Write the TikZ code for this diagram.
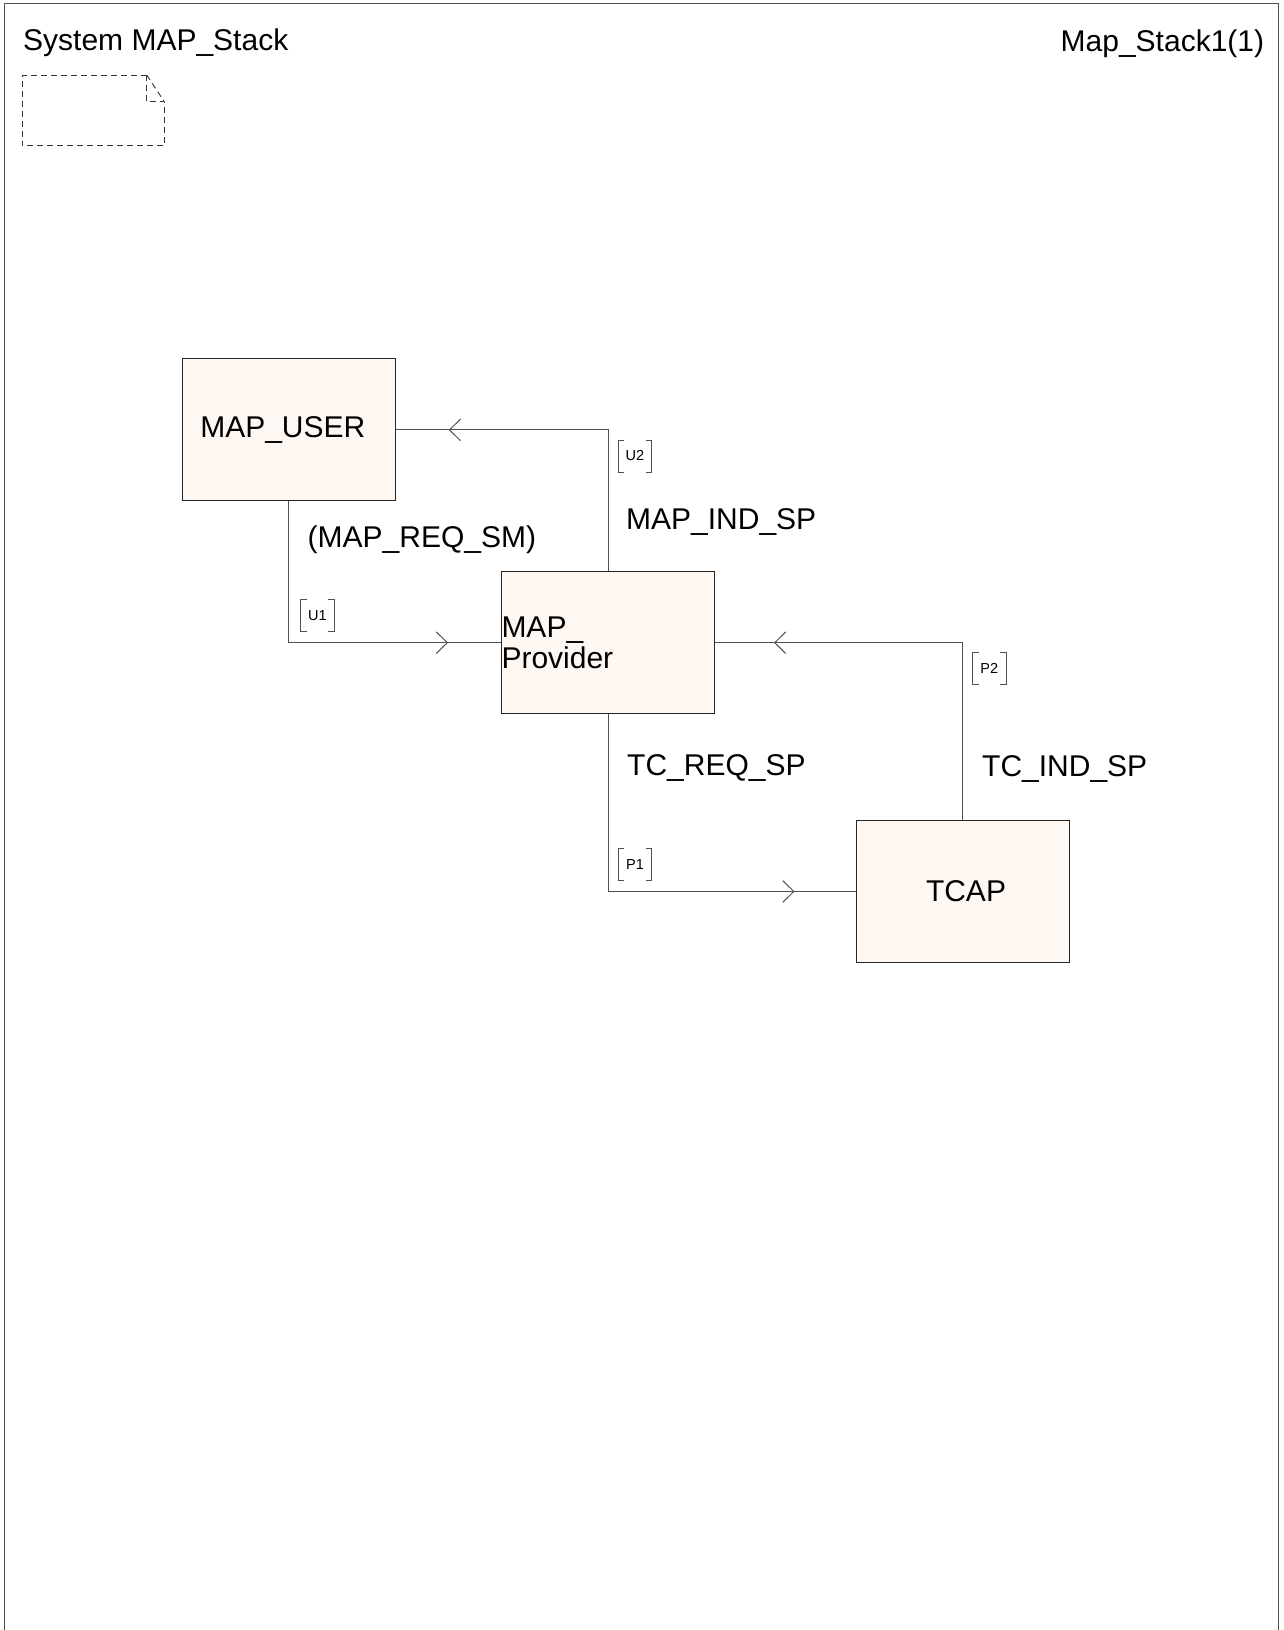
\documentclass[tikz,border=0pt]{standalone}
\usepackage{fontspec}
\setmainfont{Liberation Sans}
\usetikzlibrary{arrows.meta,decorations.markings}

\definecolor{blockfill}{RGB}{255,248,242}
\definecolor{linegray}{RGB}{80,80,80}

\tikzset{
  block/.style={draw=black!85, line width=1pt, fill=blockfill, minimum width=213pt, minimum height=142pt, inner sep=0pt, font=\fontsize{30}{31.7}\selectfont},
  sigtext/.style={anchor=base west, inner sep=0pt, font=\fontsize{30}{31.7}\selectfont},
  route/.style={minimum width=33pt, minimum height=31.5pt, inner sep=0pt, font=\fontsize{14.5}{16}\selectfont},
  bracket/.style={linegray, line width=0.8pt},
  notedash/.style={black!80, line width=0.9pt, dash pattern=on 6pt off 4pt},
  sig/.style={linegray, line width=1pt, postaction={decorate}, decoration={markings, mark=at position -#1 with {\arrow{Straight Barb[length=11pt,width=21.6pt]}}}}
}

\begin{document}
\begin{tikzpicture}[x=1pt,y=-1pt]
\useasboundingbox (0,0) rectangle (1283,1630);
\draw[linegray, line width=1pt] (4.3,1630) -- (4.3,3.3) -- (1278.7,3.3) -- (1278.7,1630);
\node[sigtext] (title) at (23,50) {System MAP\_Stack};
\node[sigtext, anchor=base east] (pagenum) at (1264.3,51.5) {Map\_Stack1(1)};

\draw[notedash] (146.7,75) -- (22.3,75) -- (22.3,145.7) -- (164.3,145.7) -- (164.3,101.7);
\draw[notedash] (146.7,75) -- (164.3,101.7);
\draw[notedash] (146.7,75) -- (146.7,101.7) -- (164.3,101.7);

\node[block, inner xsep=18pt, text width=177pt, align=left] (user) at (288.8,429.9) {MAP\_USER};
\node[block, text width=213pt, align=left] (prov) at (608,642.7) {MAP\_\\Provider};
\node[block] (tcap) at (962.5,891.5) {\hspace*{7pt}TCAP};

\draw[sig=53pt] (prov.north) |- (user.east);
\draw[sig=53pt] (user.south) |- (prov.west);
\draw[sig=59pt] (tcap.north) |- (prov.east);
\draw[sig=61pt] (prov.south) |- (tcap.west);

\node[sigtext] (mapreq) at (307.5,547.3) {(MAP\_REQ\_SM)};
\node[sigtext] (mapind) at (626,529.3) {MAP\_IND\_SP};
\node[sigtext] (tcreq) at (627,775.7) {TC\_REQ\_SP};
\node[sigtext] (tcind) at (982,776) {TC\_IND\_SP};

\node[route] (u2) at (635,456) {U2};
\node[route] (u1) at (317.3,615.8) {U1};
\node[route] (p2) at (989.3,668.8) {P2};
\node[route] (p1) at (635,864.2) {P1};
\foreach \r in {u1,u2,p1,p2} {
  \draw[bracket] ([xshift=6pt]\r.north west) -| (\r.south west) -- ++(6pt,0);
  \draw[bracket] ([xshift=-6pt]\r.north east) -| (\r.south east) -- ++(-6pt,0);
}
\end{tikzpicture}
\end{document}
